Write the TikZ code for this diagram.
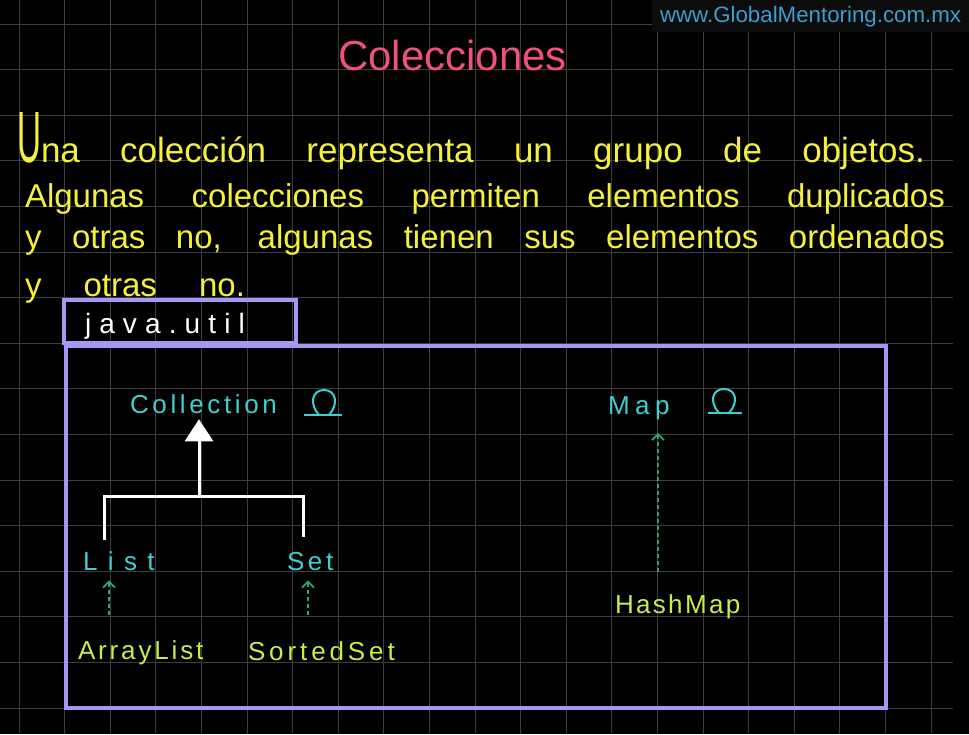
\documentclass[tikz,border=0pt]{standalone}
\usepackage{fontspec}
\setmainfont{Liberation Sans}
\usetikzlibrary{arrows.meta}
\definecolor{gridc}{HTML}{3E3E3E}
\definecolor{wmbg}{HTML}{0C0C0C}
\definecolor{wmtext}{HTML}{3A9FD0}
\definecolor{titlec}{HTML}{F0507A}
\definecolor{yel}{HTML}{F4F03C}
\definecolor{cyanc}{HTML}{3FCFCF}
\definecolor{limec}{HTML}{C5F04A}
\definecolor{dashc}{HTML}{2BA580}
\definecolor{boxc}{HTML}{A797F5}
\begin{document}
\begin{tikzpicture}[x=1pt,y=-1pt,
  every node/.style={inner sep=0pt, outer sep=0pt},
  txt/.style={anchor=base west},
  lbl/.style={txt, font=\fontsize{26}{30}\selectfont},
  iface/.style={lbl, text=cyanc},
  impl/.style={lbl, text=limec},
  body/.style={txt, text=yel, font=\fontsize{33}{38}\selectfont},
  pkgbox/.style={draw=boxc, line width=3.2pt, anchor=north west},
  dasharrow/.style={dashc, line width=1.8pt, dash pattern=on 4pt off 3pt,
    -{Straight Barb[length=6pt,width=12pt]}},
  inherit/.style={white, line width=3pt},
  lolly/.style={cyanc, line width=2pt},
  gridline/.style={gridc, line width=0.8pt}]
\useasboundingbox (0,0) rectangle (969,734);
\fill[black] (0,0) rectangle (969,734);
% grid
\foreach \i in {0,...,20} \draw[gridline] ({19+45.6*\i},0) -- ({19+45.6*\i},734);
\foreach \j in {0,...,15} \draw[gridline] (0,{24+45.6*\j}) -- (953,{24+45.6*\j});
% watermark
\fill[wmbg] (652,0) rectangle (969,32);
\node[txt, text=wmtext, font=\fontsize{22.3}{26}\selectfont] (wm) at (660,22) {www.GlobalMentoring.com.mx};
% title
\node[txt, text=titlec, font=\fontsize{42}{48}\selectfont] (title) at (338,70) {Colecciones};
% body text
\node[body, font=\fontsize{35}{40}\selectfont] (l1) at (17,162) {\makebox[908pt][s]{\resizebox{24pt}{50pt}{U}na colección representa un grupo de objetos.}};
\node[body] (l2) at (25,207) {\makebox[920pt][s]{Algunas colecciones permiten elementos duplicados}};
\node[body] (l3) at (25,248) {\makebox[920pt][s]{y otras no, algunas tienen sus elementos ordenados}};
\node[body] (l4) at (25,296) {\makebox[220pt][s]{y otras no.}};
% package boxes
\node[pkgbox, minimum width=232pt, minimum height=43pt] (pkg) at (64,300) {};
\node[txt, text=white, font=\fontsize{28}{32}\selectfont] (pkgname) at (85,333) {\addfontfeature{LetterSpace=29}java.util};
\node[pkgbox, minimum width=820pt, minimum height=362pt] (util) at (66,346) {};
% interfaces
\node[iface] (Collection) at (130,413) {\addfontfeature{LetterSpace=14}Collection};
\node[iface] (Map) at (608,414) {\addfontfeature{LetterSpace=21}Map};
\node[iface] (List) at (83,570) {\addfontfeature{LetterSpace=40}List};
\node[iface] (Set) at (287,570) {\addfontfeature{LetterSpace=14}Set};
% implementations
\node[impl] (ArrayList) at (78,659) {\addfontfeature{LetterSpace=11}ArrayList};
\node[impl] (SortedSet) at (248,660) {\addfontfeature{LetterSpace=15}SortedSet};
\node[impl] (HashMap) at (615,613) {\addfontfeature{LetterSpace=9}HashMap};
% interface markers
\draw[lolly] (319,415) .. controls (309,404) and (312,390) .. (324,390) .. controls (336,390) and (339,404) .. (329,415);
\draw[lolly] (304,415) -- (342,415);
\draw[lolly] (719,413) .. controls (709,402) and (712,389) .. (724,389) .. controls (736,389) and (739,402) .. (729,413);
\draw[lolly] (708,413) -- (742,413);
% inheritance tree
\coordinate (jn) at (199,496);
\draw[inherit] ([xshift=21pt,yshift=11.4pt]List.north west) |- (jn) -| ([xshift=16pt,yshift=14.4pt]Set.north west);
\draw[inherit, -{Triangle[width=28pt,length=22pt]}, shorten >=6pt] (jn) -- (jn |- Collection.south);
% implementation arrows
\draw[dasharrow] ([xshift=31pt,yshift=25.4pt]ArrayList.north west) -- ([xshift=26pt,yshift=-10pt]List.south west);
\draw[dasharrow] ([xshift=60pt,yshift=26.4pt]SortedSet.north west) -- ([xshift=21pt,yshift=-10pt]Set.south west);
\draw[dasharrow] ([xshift=43pt,yshift=22.4pt]HashMap.north west) -- ([xshift=50pt,yshift=-13.5pt]Map.south west);
\end{tikzpicture}
\end{document}
